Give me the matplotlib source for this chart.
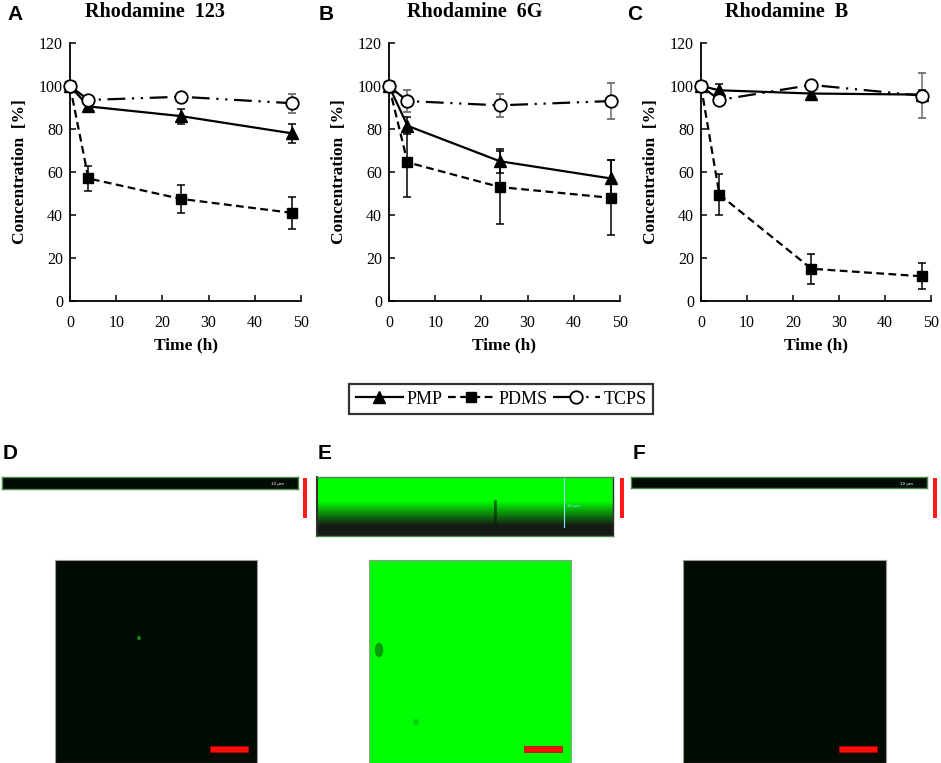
import numpy as np
import matplotlib
matplotlib.use("Agg")
from matplotlib import pyplot as plt
import matplotlib.patches as patches

W, H = 941, 763

time_h = [0, 4, 24, 48]

titles = ["Rhodamine  123", "Rhodamine  6G", "Rhodamine  B"]
letters = ["A", "B", "C"]

pmp = [[100, 90.5, 86, 78], [100, 81.5, 65, 57], [100, 98, 96.5, 96]]
pmp_err = [[0, 1.5, 3.5, 4.5], [0, 4, 5.5, 8.5], [0, 3, 2.5, 2]]
pdms = [[100, 57, 47.5, 41], [100, 64.5, 53, 48], [100, 49.5, 15, 11.5]]
pdms_err = [[0, 6, 6.5, 7.5], [0, 16, 17, 17.5], [0, 9.5, 7, 6]]
tcps = [[100, 93.5, 95, 92], [100, 93, 91, 93], [100, 93.5, 100.5, 95.5]]
tcps_err = [[0, 1, 1, 4.5], [0, 5, 5.5, 8.5], [0, 1, 1, 10.5]]

y_ticks = [0, 20, 40, 60, 80, 100, 120]
x_ticks = [0, 10, 20, 30, 40, 50]

serif = ["Liberation Serif", "DejaVu Serif"]
sans = ["Liberation Sans", "DejaVu Sans"]


def box(x0, y0, x1, y1):
    return [x0 / W, 1 - y1 / H, (x1 - x0) / W, (y1 - y0) / H]


fig = plt.figure(figsize=(W / 100, H / 100), dpi=100)
fig.patch.set_facecolor("white")

axes_px = [(70, 43, 301, 301), (389, 43, 620, 301), (701, 43, 931, 301)]
title_x = [155, 475, 787]
letter_x = [15, 326, 635]
handles = None
for i, (x0, y0, x1, y1) in enumerate(axes_px):
    ax = fig.add_axes(box(x0, y0, x1, y1))
    ax.set_xlim(0, 50)
    ax.set_ylim(0, 120)
    for s in ["top", "right"]:
        ax.spines[s].set_visible(False)
    for s in ["left", "bottom"]:
        ax.spines[s].set_linewidth(1.3)
    ax.set_xticks(x_ticks)
    ax.set_yticks(y_ticks)
    ax.tick_params(direction="in", length=4, width=1.1, labelsize=11.5)
    ax.tick_params(axis="x", pad=10)
    ax.tick_params(axis="y", pad=5)
    for lab in ax.get_xticklabels() + ax.get_yticklabels():
        lab.set_family(serif)

    h1 = ax.errorbar(time_h, pmp[i], yerr=pmp_err[i], color="black", lw=1.6,
                     marker="^", ms=8, capsize=3, elinewidth=1.1, capthick=1.1,
                     label="PMP", clip_on=False, zorder=3)
    h2 = ax.errorbar(time_h, pdms[i], yerr=pdms_err[i], color="black", lw=1.6,
                     ls=(0, (3.5, 2)), marker="s", ms=7.5, capsize=3,
                     elinewidth=1.1, capthick=1.1, label="PDMS", clip_on=False,
                     zorder=3)
    h3 = ax.errorbar(time_h, tcps[i], yerr=tcps_err[i], color="black", lw=1.6,
                     ls=(0, (8, 3, 1, 3, 1, 3)), marker="o", ms=9, mfc="white",
                     mew=1.3, ecolor="#6e6e6e", capsize=3, elinewidth=1.1,
                     capthick=1.1, label="TCPS", clip_on=False, zorder=4)
    if handles is None:
        handles = [h1, h2, h3]

    ax.set_xlabel("Time (h)", family=serif, fontweight="bold", fontsize=12.5, labelpad=5)
    ax.set_ylabel("Concentration  [%]", family=serif, fontweight="bold", fontsize=12.5,
                  labelpad=8)
    fig.text(title_x[i] / W, 1 - 12 / H, titles[i], family=serif,
             fontweight="bold", fontsize=14.5, ha="center", va="center")
    fig.text(letter_x[i] / W, 1 - 14 / H, letters[i], family=sans,
             fontweight="bold", fontsize=15, ha="center", va="center")

leg = fig.legend(handles=[h[0] for h in handles], labels=["PMP", "PDMS", "TCPS"],
                 loc="center", bbox_to_anchor=(501 / W, 1 - 399 / H), ncol=3,
                 frameon=True, fancybox=False, edgecolor="black",
                 prop={"family": serif, "size": 13}, handlelength=2.6,
                 columnspacing=0.3, handletextpad=0.2, borderpad=0.35)
leg.get_frame().set_linewidth(1.6)

# lower microscopy panels
dark = "#030c03"
green = "#00ff00"

strip_px = [(2, 477, 298, 489), (317, 477, 613, 536), (631, 477, 927, 488)]
bar_x = [305, 622, 935]
lower_letters = ["D", "E", "F"]
for i, (x0, y0, x1, y1) in enumerate(strip_px):
    fig.text((x0 + 8) / W, 1 - 454 / H, lower_letters[i], family=sans,
             fontweight="bold", fontsize=15, ha="center", va="center")
    sax = fig.add_axes(box(x0, y0, x1, y1))
    sax.set_xticks([])
    sax.set_yticks([])
    for s in sax.spines.values():
        s.set_color("#4c8a4c")
        s.set_linewidth(1.0)
    if i == 1:
        rows = y1 - y0
        frac = np.clip((np.arange(rows) - 24) / 24.0, 0, 1)
        img = np.zeros((rows, 1, 3))
        img[:, 0, 1] = 1.0 - 0.9 * frac
        img[:, 0, 0] = 0.09 * frac
        img[:, 0, 2] = 0.09 * frac
        sax.imshow(img, aspect="auto", extent=(0, 1, 0, 1))
        sax.plot([0.602, 0.602], [0.02, 0.6], color="#0a200a", lw=2.0, alpha=0.6)
        sax.plot([0.836, 0.836], [0.15, 0.98], color="#8fe8ff", lw=0.8)
        sax.text(0.845, 0.5, "10 µm", color="#8fe8ff", fontsize=3)
        sax.set_xlim(0, 1)
        sax.set_ylim(0, 1)
        sax.spines["left"].set_color("#303030")
        sax.spines["left"].set_linewidth(1.5)
        sax.spines["right"].set_color("#303030")
    else:
        sax.set_facecolor(dark)
        sax.text(0.91, 0.3, "10 µm", color="white", fontsize=3)
    lax = fig.add_axes(box(bar_x[i] - 2, 478, bar_x[i] + 2, 518))
    lax.set_facecolor("#ff1a1a")
    lax.set_xticks([])
    lax.set_yticks([])
    for s in lax.spines.values():
        s.set_visible(False)

img_px = [(55, 560, 257, 763), (369, 560, 571, 763), (683, 560, 886, 763)]
for i, (x0, y0, x1, y1) in enumerate(img_px):
    iax = fig.add_axes(box(x0, y0, x1, y1))
    iax.set_xlim(x0, x1)
    iax.set_ylim(y1, y0)
    iax.set_xticks([])
    iax.set_yticks([])
    for s in iax.spines.values():
        s.set_color("#9a9a9a")
        s.set_linewidth(0.8)
    iax.set_facecolor(green if i == 1 else dark)
    if i == 1:
        iax.add_patch(patches.Ellipse((379, 650), 7, 13, color="#0a7a0a", alpha=0.7))
        iax.add_patch(patches.Ellipse((416, 722), 4, 5, color="#10b010", alpha=0.5))
    if i == 0:
        iax.add_patch(patches.Ellipse((139, 638), 2, 3, color="#1f8a1f"))
    iax.add_patch(patches.Rectangle((x1 - 47, y1 - 17), 38, 6,
                                    facecolor="#ff0d0d", edgecolor="#c00000", lw=0.5))

fig.savefig("out.png", dpi=100, facecolor="white")
